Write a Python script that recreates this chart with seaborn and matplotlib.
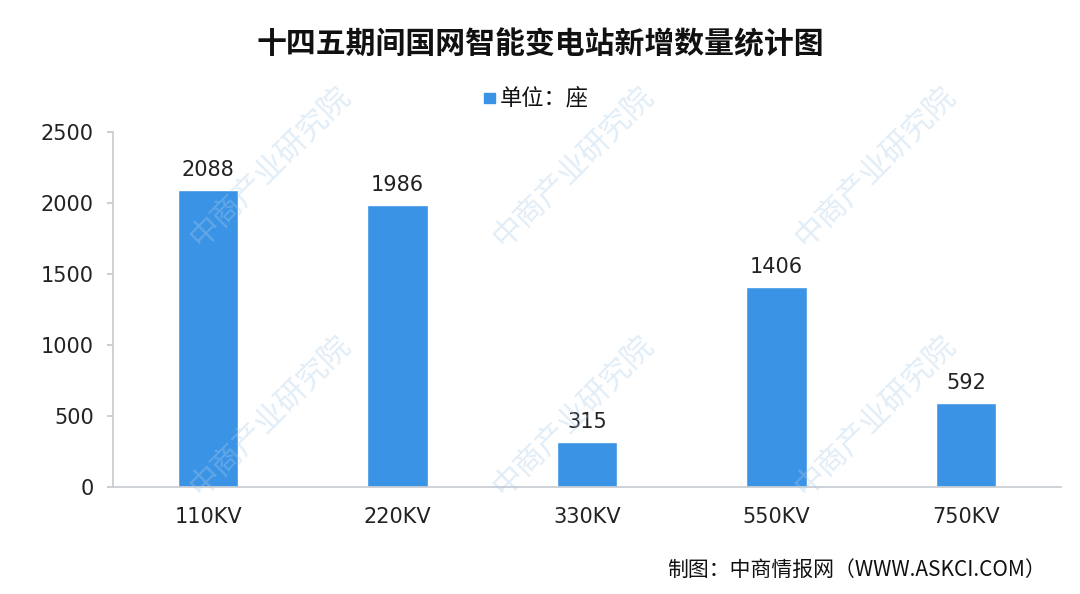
import matplotlib
matplotlib.use("Agg")
import matplotlib.pyplot as plt
import seaborn as sns
import pandas as pd

categories = ["110KV", "220KV", "330KV", "550KV", "750KV"]
counts = [2088, 1986, 315, 1406, 592]
y_ticks = [0, 500, 1000, 1500, 2000, 2500]

title = "十四五期间国网智能变电站新增数量统计图"
legend_label = "单位：座"
source = "制图：中商情报网（WWW.ASKCI.COM）"
watermark = "中商产业研究院"

sns.set_theme(style="white")
plt.rcParams["font.family"] = ["Noto Sans CJK SC", "DejaVu Sans"]

df = pd.DataFrame({"电压": categories, "数量": counts})
bar_color = "#3b93e6"

fig = plt.figure(figsize=(10.8, 5.94), dpi=100)
ax = fig.add_axes([0.105, 0.180, 0.877, 0.598])

# faint watermarks, kept inside the figure
for wx, wy in [(0.25, 0.72), (0.53, 0.72), (0.81, 0.72),
               (0.25, 0.30), (0.53, 0.30), (0.81, 0.30)]:
    fig.text(wx, wy, watermark, rotation=45, fontsize=22, color="#a9cbe8",
             alpha=0.35, ha="center", va="center", zorder=0)

sns.barplot(data=df, x="电压", y="数量", color=bar_color, width=0.32,
            saturation=1, ax=ax, zorder=2)

for i, v in enumerate(counts):
    ax.text(i, v + 70, f"{v}", ha="center", va="bottom", fontsize=15,
            color="#222222", family="DejaVu Sans")

ax.set_ylim(0, 2500)
ax.set_yticks(y_ticks)
ax.set_yticklabels([str(t) for t in y_ticks], family="DejaVu Sans", fontsize=15,
                   color="#222222")
ax.set_xticks(range(len(categories)))
ax.set_xticklabels(categories, family="DejaVu Sans", fontsize=15, color="#222222")
ax.set_xlim(-0.5, len(categories) - 0.5)
ax.set_xlabel("")
ax.set_ylabel("")
ax.tick_params(axis="x", length=0, pad=14)
ax.tick_params(axis="y", length=4, color="#c8c8c8", left=True, pad=10)
for side in ["top", "right"]:
    ax.spines[side].set_visible(False)
ax.spines["left"].set_color("#c8cdd3")
ax.spines["bottom"].set_color("#c8cdd3")
ax.patch.set_alpha(0)

fig.text(0.5, 0.925, title, ha="center", va="center", fontsize=21.5,
         fontweight="bold", color="#111111")

# legend
fig.patches.append(plt.Rectangle((0.448, 0.826), 0.010, 0.018,
                                 transform=fig.transFigure, color=bar_color,
                                 figure=fig))
fig.text(0.463, 0.835, legend_label, ha="left", va="center", fontsize=16,
         color="#111111")

fig.text(0.968, 0.04, source, ha="right", va="center", fontsize=15,
         color="#111111")

fig.savefig("out.png", dpi=100)
